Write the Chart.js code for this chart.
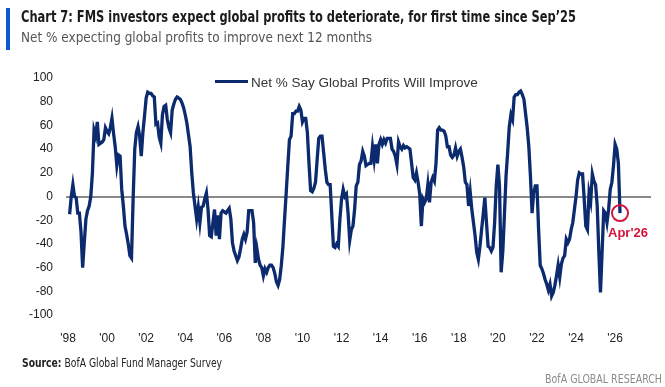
<!DOCTYPE html>
<html lang="en">
<head>
  <meta charset="UTF-8">
  <title>Chart 7: FMS global profits expectations</title>
  <script src="https://cdn.jsdelivr.net/npm/chart.js"></script>
  <style>
    html, body { margin: 0; padding: 0; background: #fff; }
    body { width: 665px; height: 387px; position: relative; overflow: hidden; font-family: "Liberation Sans", Arial, sans-serif; }
    .bar { position: absolute; left: 6px; top: 8px; width: 4px; height: 42px; background: #0b5ad1; }
    .cond { font-family: "Liberation Sans Narrow", "DejaVu Sans Condensed", sans-serif; font-stretch: condensed; white-space: nowrap; position: absolute; transform-origin: 0 50%; }
    .title { left: 21px; top: 8px; font-weight: bold; font-size: 15.5px; color: #1b1b1b; }
    .subtitle { left: 21px; top: 29px; font-size: 14px; color: #555; }
    .legend { position: absolute; left: 215px; top: 73px; color: #333; white-space: nowrap; }
    .legend span.line { display: inline-block; width: 33px; height: 3px; background: #0c2a6e; vertical-align: middle; margin-right: 3px; position: relative; top: -1px; }
    .legend span.txt { font-size: 12.5px; }
    .source { left: 22px; top: 356px; font-size: 12px; color: #222; }
    .brand { left: 545px; top: 372px; font-size: 12px; color: #8a8a8a; }
    #wrap { position: absolute; left: 0; top: 0; width: 665px; height: 387px; }
  </style>
</head>
<body>

<div id="wrap"><canvas id="grafik" width="665" height="387"></canvas></div>
<div class="bar"></div>
<div class="cond title" data-w="555">Chart 7: FMS investors expect global profits to deteriorate, for first time since Sep’25</div>
<div class="cond subtitle" data-w="351">Net % expecting global profits to improve next 12 months</div>
<div class="legend"><span class="line"></span><span class="txt" data-w="227">Net % Say Global Profits Will Improve</span></div>
<div class="cond source" data-w="200"><b>Source:</b> BofA Global Fund Manager Survey</div>
<div class="cond brand" data-w="117">BofA GLOBAL RESEARCH</div>

<script>
  // monthly survey, first reading Feb 1998, last reading Apr 2026
  const startYear = 1998;
  const startMonth = 2;
  const netPct = [
    -15, 0, 10, 0, -1, -14, -14, -30, -60, -39, -19, -12,
    -8, 0, 20, 56, 51, 63, 44, 45, 46, 48, 58, 55,
    53, 58, 66, 53, 42, 26, 35, 34, 6, -8, -25, -32,
    -40, -50, -52, -2, 40, 54, 59, 51, 34, 54, 68, 83,
    88, 87, 87, 85, 84, 61, 62, 50, 45, 69, 76, 77,
    65, 58, 54, 73, 78, 82, 84, 83, 82, 79, 75, 69,
    62, 52, 42, 20, 3, -8, -19, -9, -22, -9, -8, -2,
    3, -11, -33, -34, -22, -11, -33, -16, -36, -14, -12, -13,
    -14, -12, -10, -19, -39, -46, -50, -54, -51, -44, -36, -32,
    -36, -30, -12, -12, -12, -22, -56, -44, -53, -58, -60, -67,
    -61, -64, -60, -58, -58, -60, -65, -72, -75, -70, -58, -42,
    -19, 3, 26, 48, 51, 70, 70, 72, 72, 76, 73, 63,
    66, 66, 54, 28, 5, 4, 7, 12, 31, 49, 51, 51,
    37, 23, 12, 10, 10, -16, -42, -43, -40, -42, -19, -2,
    6, 0, 2, -14, -37, -28, -25, -11, 9, 12, 27, 30,
    38, 34, 26, 27, 28, 28, 42, 31, 44, 28, 44, 48,
    44, 48, 45, 49, 49, 49, 40, 38, 34, 27, 46, 42,
    40, 43, 41, 42, 41, 40, 28, 16, 14, 20, 12, 2,
    -25, -2, -5, -2, 10, -5, 12, 16, 13, 28, 56, 58,
    56, 56, 55, 51, 42, 42, 35, 33, 35, 41, 34, 38,
    40, 33, 25, 12, 10, -8, 4, -11, -22, -33, -47, -53,
    -42, -28, -15, -1, -22, -42, -43, -46, -43, -22, 9, 27,
    9, -64, -47, -16, 17, 37, 59, 69, 65, 84, 86, 86,
    88, 89, 86, 82, 70, 58, 42, 17, -14, 3, 9, 9,
    -28, -58, -61, -65, -70, -74, -79, -74, -84, -81, -75, -67,
    -58, -68, -57, -52, -50, -36, -39, -36, -28, -22, -11, 0,
    14, 20, 19, 19, -2, -25, -28, 3, -4, 19, 13, 10,
    -8, -47, -81, -47, -12, -14, -22, -11, 6, 12, 26, 44,
    40, 28, -14
  ];
  const yearTicks = [1998, 2000, 2002, 2004, 2006, 2008, 2010, 2012, 2014, 2016, 2018, 2020, 2022, 2024, 2026];
  const lastLabel = "Apr'26";

  // condensed texts: keep the height, squeeze to the width of the original
  document.querySelectorAll('.cond[data-w]').forEach(el => {
    const w = el.getBoundingClientRect().width;
    el.style.transform = 'scaleX(' + (parseFloat(el.dataset.w) / w).toFixed(3) + ')';
  });
  document.querySelectorAll('.txt[data-w]').forEach(el => {
    const size = parseFloat(getComputedStyle(el).fontSize);
    const w = el.getBoundingClientRect().width;
    el.style.fontSize = (size * parseFloat(el.dataset.w) / w).toFixed(2) + 'px';
  });

  const titik = netPct.map((v, i) => ({ x: startYear + (startMonth - 1 + i) / 12, y: v }));

  // red ring on latest reading
  const tandaAkhir = {
    id: 'tandaAkhir',
    afterDatasetsDraw(chart) {
      const meta = chart.getDatasetMeta(0);
      const p = meta.data[meta.data.length - 1];
      const ctx = chart.ctx;
      ctx.save();
      ctx.strokeStyle = '#d4143c';
      ctx.lineWidth = 2;
      ctx.beginPath();
      ctx.arc(p.x, p.y, 8, 0, Math.PI * 2);
      ctx.stroke();
      ctx.fillStyle = '#d4143c';
      ctx.font = 'bold 13px "Liberation Sans", Arial, sans-serif';
      ctx.textAlign = 'center';
      ctx.textBaseline = 'middle';
      ctx.fillText(lastLabel, p.x + 8, p.y + 20);
      ctx.restore();
    }
  };

  const ctx = document.getElementById('grafik').getContext('2d');
  new Chart(ctx, {
    type: 'line',
    data: {
      datasets: [{
        label: 'Net % Say Global Profits Will Improve',
        data: titik,
        borderColor: '#0c2a6e',
        borderWidth: 3.3,
        pointRadius: 0,
        tension: 0,
        fill: false
      }]
    },
    options: {
      responsive: false,
      animation: false,
      layout: { padding: { left: 0, right: 14, top: 78, bottom: 36 } },
      plugins: { legend: { display: false }, tooltip: { enabled: false } },
      scales: {
        x: {
          type: 'linear',
          min: 1997.898,
          max: 2027.836,
          afterBuildTicks: s => { s.ticks = yearTicks.map(v => ({ value: v })); },
          afterFit: s => { s.height = 36; },
          grid: { display: false, drawTicks: false },
          border: { display: false },
          ticks: {
            padding: 16,
            autoSkip: false,
            maxRotation: 0,
            color: '#222',
            font: { size: 12, family: '"Liberation Sans", Arial, sans-serif' },
            callback: v => "'" + String(v).slice(2)
          }
        },
        y: {
          min: -100,
          max: 100,
          afterFit: s => { s.width = 66; },
          grid: {
            drawTicks: false,
            lineWidth: 2,
            color: c => c.tick.value === 0 ? '#8a8a8a' : 'rgba(0,0,0,0)'
          },
          border: { display: false },
          ticks: {
            stepSize: 20,
            padding: 13,
            color: '#222',
            font: { size: 12, family: '"Liberation Sans", Arial, sans-serif' }
          }
        }
      }
    },
    plugins: [tandaAkhir]
  });
</script>

</body>
</html>
